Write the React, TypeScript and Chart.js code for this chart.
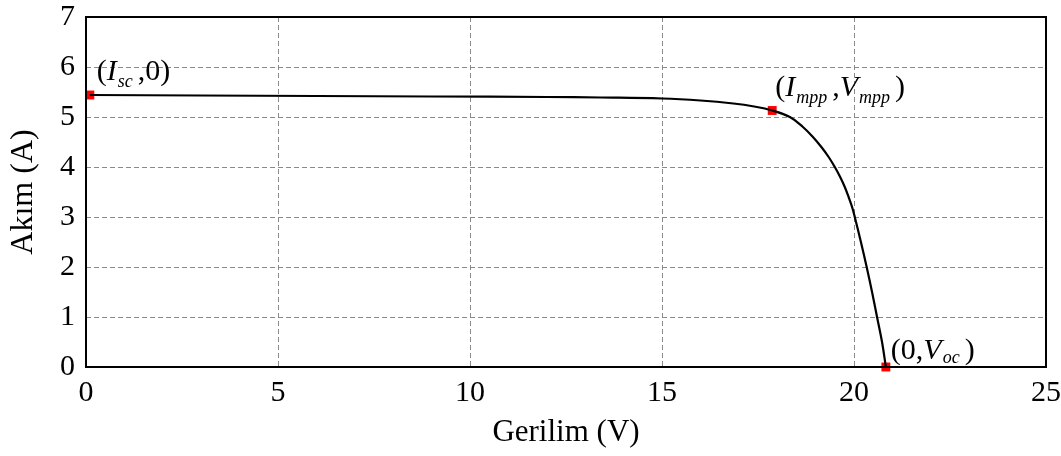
import React, { useEffect, useRef } from "react";
import { Chart, registerables } from "chart.js";

Chart.register(...registerables);

// ---- data ----
const voltage = [0.1, 3, 6, 9, 12, 13.4, 15, 16, 16.86, 17.4, 17.87, 18.33, 18.67, 18.93, 19.15, 19.34, 19.5, 19.64, 19.76, 19.86, 19.95, 20.02, 20.18, 20.33, 20.47, 20.6, 20.73, 20.83];
const current = [5.44, 5.43, 5.42, 5.41, 5.4, 5.39, 5.37, 5.33, 5.27, 5.21, 5.13, 5.0, 4.8, 4.6, 4.4, 4.2, 4.0, 3.8, 3.6, 3.4, 3.2, 3.0, 2.5, 2.0, 1.5, 1.0, 0.5, 0];

const markerV = [0.1, 17.87, 20.83];
const markerI = [5.44, 5.13, 0];

const xTicks = [0, 5, 10, 15, 20, 25];
const yTicks = [0, 1, 2, 3, 4, 5, 6, 7];

const xTitle = "Gerilim (V)";
const yTitle = "Akım (A)";

type Seg = { t: string; it?: boolean; sub?: boolean };
const markerLabels: Seg[][] = [
  [{ t: "(" }, { t: "I", it: true }, { t: "sc", sub: true }, { t: "," }, { t: "0" }, { t: ")" }],
  [{ t: "(" }, { t: "I", it: true }, { t: "mpp", sub: true }, { t: "," }, { t: "V", it: true }, { t: "mpp", sub: true }, { t: ")" }],
  [{ t: "(" }, { t: "0" }, { t: "," }, { t: "V", it: true }, { t: "oc", sub: true }, { t: ")" }],
];
// [dx, dy, subscript drop]
const labelOffsets = [
  [7, -15, 7],
  [3, -15, 7],
  [5, -8, 4],
];

const FAMILY = "'Liberation Serif', 'Times New Roman', serif";

const framePlugin = {
  id: "frameAndLabels",
  afterDatasetsDraw(chart: any) {
    const { ctx, chartArea } = chart;
    ctx.save();
    ctx.strokeStyle = "#000";
    ctx.lineWidth = 2;
    ctx.strokeRect(chartArea.left, chartArea.top, chartArea.right - chartArea.left, chartArea.bottom - chartArea.top);
    ctx.restore();
  },
  afterDraw(chart: any) {
    const { ctx, scales } = chart;
    ctx.save();
    ctx.fillStyle = "#000";
    ctx.textBaseline = "alphabetic";
    ctx.textAlign = "left";
    markerLabels.forEach((segs, i) => {
      const [dx, dy, drop] = labelOffsets[i];
      let x = scales.x.getPixelForValue(markerV[i]) + dx;
      const y = scales.y.getPixelForValue(markerI[i]) + dy;
      segs.forEach((s) => {
        if (s.sub) {
          ctx.font = `italic 18px ${FAMILY}`;
          ctx.fillText(s.t, x + 1, y + drop);
          x += ctx.measureText(s.t).width + 6;
        } else {
          ctx.font = `${s.it ? "italic " : ""}30px ${FAMILY}`;
          ctx.fillText(s.t, x, y);
          x += ctx.measureText(s.t).width;
        }
      });
    });
    ctx.restore();
  },
};

const zeroPad = (s: any) => {
  s.paddingTop = 0;
  s.paddingBottom = 0;
  s.paddingLeft = 0;
  s.paddingRight = 0;
};

export default function App() {
  const ref = useRef<HTMLCanvasElement | null>(null);
  useEffect(() => {
    if (!ref.current) return;
    const chart = new Chart(ref.current, {
      type: "scatter",
      data: {
        datasets: [
          {
            type: "line",
            data: voltage.map((v, i) => ({ x: v, y: current[i] })),
            borderColor: "#000",
            borderWidth: 2.2,
            pointRadius: 0,
            tension: 0.4,
            fill: false,
          } as any,
          {
            data: markerV.map((v, i) => ({ x: v, y: markerI[i] })),
            pointStyle: "rect",
            pointRadius: 6.3,
            backgroundColor: "#ff0000",
            borderWidth: 0,
            clip: false,
          } as any,
        ],
      },
      options: {
        responsive: false,
        animation: false,
        devicePixelRatio: 1,
        layout: { padding: { top: 17, right: 15, left: 0, bottom: 0 } },
        plugins: { legend: { display: false }, tooltip: { enabled: false } },
        scales: {
          x: {
            type: "linear",
            min: 0,
            max: 25,
            afterBuildTicks: (s: any) => {
              s.ticks = xTicks.map((v) => ({ value: v }));
            },
            afterFit: (s: any) => {
              s.height = 89;
              zeroPad(s);
            },
            ticks: {
              color: "#000",
              padding: 11,
              font: { family: FAMILY, size: 30, lineHeight: 1 },
            },
            grid: {
              drawTicks: false,
              color: (c: any) => (c.tick && (c.tick.value === 0 || c.tick.value === 25) ? "rgba(0,0,0,0)" : "#8a8a8a"),
              lineWidth: 1,
            },
            border: { display: false, dash: [5, 3] },
            title: {
              display: true,
              text: xTitle,
              color: "#000",
              font: { family: FAMILY, size: 31 },
              padding: { top: 0, bottom: 5 },
            },
          },
          y: {
            type: "linear",
            min: 0,
            max: 7,
            afterBuildTicks: (s: any) => {
              s.ticks = yTicks.map((v) => ({ value: v }));
            },
            afterFit: (s: any) => {
              s.width = 86;
              zeroPad(s);
            },
            ticks: {
              color: "#000",
              padding: 11,
              font: { family: FAMILY, size: 30, lineHeight: 1 },
            },
            grid: {
              drawTicks: false,
              color: (c: any) => (c.tick && (c.tick.value === 0 || c.tick.value === 7) ? "rgba(0,0,0,0)" : "#8a8a8a"),
              lineWidth: 1,
            },
            border: { display: false, dash: [5, 3] },
            title: {
              display: true,
              text: yTitle,
              color: "#000",
              font: { family: FAMILY, size: 32 },
              padding: { top: 4, bottom: 0 },
            },
          },
        },
      },
      plugins: [framePlugin],
    });
    return () => chart.destroy();
  }, []);
  return (
    <div style={{ position: "absolute", left: 0, top: 0, width: 1061, height: 456, background: "#fff" }}>
      <canvas ref={ref} width={1061} height={456} />
    </div>
  );
}
